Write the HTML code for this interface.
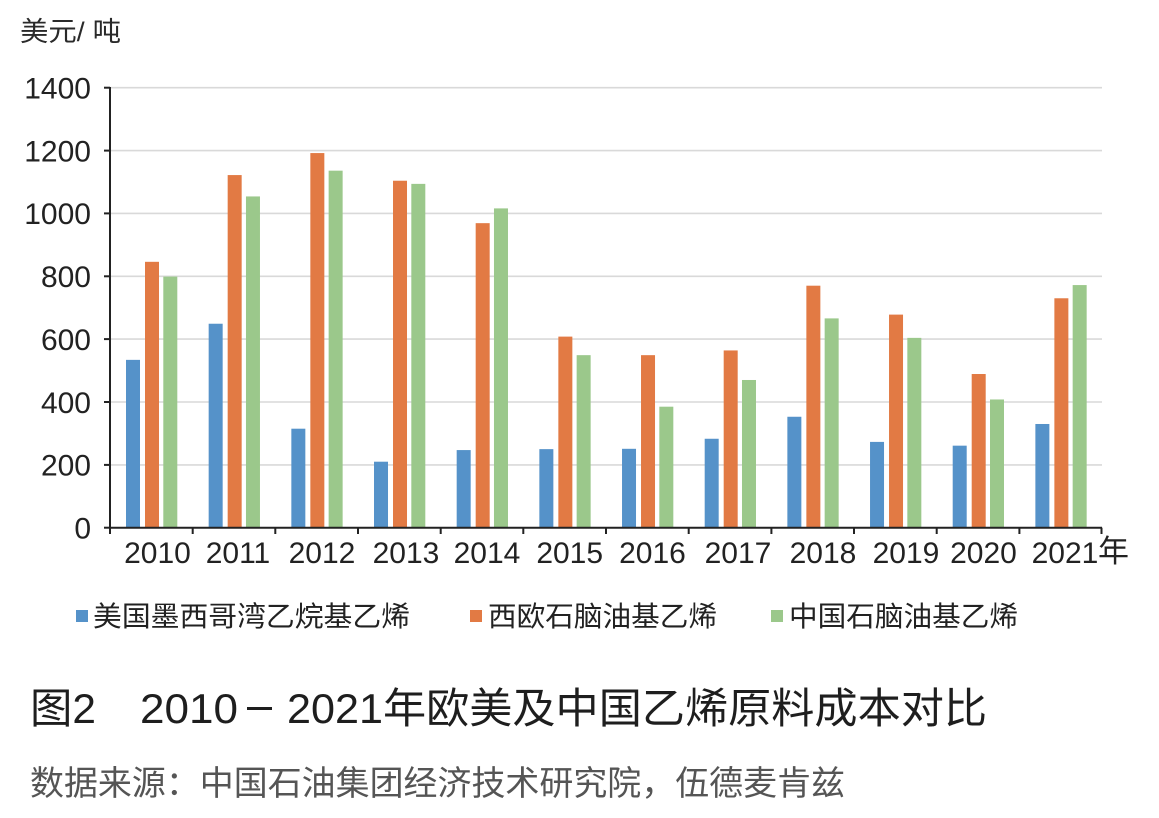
<!DOCTYPE html>
<html>
<head>
<meta charset="utf-8">
<style>
html,body{margin:0;padding:0;background:#fff;}
body{width:1159px;height:818px;overflow:hidden;}
svg{display:block;}
</style>
</head>
<body>
<svg width="1159" height="818" viewBox="0 0 1159 818" xmlns="http://www.w3.org/2000/svg">
<rect width="1159" height="818" fill="#fff"/>
<!-- unit label -->
<text x="20" y="41" font-family="Liberation Sans, Noto Sans CJK SC, sans-serif" font-size="27" fill="#2a2a2a" textLength="101" lengthAdjust="spacingAndGlyphs">美元/ 吨</text>

<!-- gridlines -->
<g stroke="#d9d9d9" stroke-width="1.6">
<line x1="110" y1="87.7" x2="1102" y2="87.7"/>
<line x1="110" y1="150.6" x2="1102" y2="150.6"/>
<line x1="110" y1="213.4" x2="1102" y2="213.4"/>
<line x1="110" y1="276.3" x2="1102" y2="276.3"/>
<line x1="110" y1="339.1" x2="1102" y2="339.1"/>
<line x1="110" y1="402" x2="1102" y2="402"/>
<line x1="110" y1="464.9" x2="1102" y2="464.9"/>
</g>

<!-- bars -->
<g id="bars"></g>
<script>
(function(){
var blue=[534,649,315,210,247,250,251,283,353,273,261,330];
var orange=[846,1122,1192,1104,969,608,549,564,770,678,489,730];
var green=[799,1054,1136,1094,1016,549,385,470,666,604,408,772];
var y0=527.7, k=440/1400, cw=82.67, x0=110;
var g=document.getElementById('bars');
var ns='http://www.w3.org/2000/svg';
function bar(x,v,c){var h=v*k;var r=document.createElementNS(ns,'rect');r.setAttribute('x',x.toFixed(2));r.setAttribute('y',(y0-h).toFixed(2));r.setAttribute('width','14');r.setAttribute('height',h.toFixed(2));r.setAttribute('fill',c);g.appendChild(r);}
for(var i=0;i<12;i++){var s=x0+i*cw;bar(s+16,blue[i],'#5592c9');bar(s+35,orange[i],'#e27a44');bar(s+53.3,green[i],'#9bc88b');}
})();
</script>

<!-- axes -->
<g stroke="#222" stroke-width="2">
<line x1="110" y1="87" x2="110" y2="534"/>
<line x1="109" y1="527.7" x2="1102" y2="527.7"/>
<line x1="104" y1="87.7" x2="110" y2="87.7"/>
<line x1="104" y1="150.6" x2="110" y2="150.6"/>
<line x1="104" y1="213.4" x2="110" y2="213.4"/>
<line x1="104" y1="276.3" x2="110" y2="276.3"/>
<line x1="104" y1="339.1" x2="110" y2="339.1"/>
<line x1="104" y1="402" x2="110" y2="402"/>
<line x1="104" y1="464.9" x2="110" y2="464.9"/>
<line x1="104" y1="527.7" x2="110" y2="527.7"/>
<line x1="192.7" y1="527.7" x2="192.7" y2="534"/>
<line x1="275.3" y1="527.7" x2="275.3" y2="534"/>
<line x1="358" y1="527.7" x2="358" y2="534"/>
<line x1="440.7" y1="527.7" x2="440.7" y2="534"/>
<line x1="523.3" y1="527.7" x2="523.3" y2="534"/>
<line x1="606" y1="527.7" x2="606" y2="534"/>
<line x1="688.7" y1="527.7" x2="688.7" y2="534"/>
<line x1="771.4" y1="527.7" x2="771.4" y2="534"/>
<line x1="854" y1="527.7" x2="854" y2="534"/>
<line x1="936.7" y1="527.7" x2="936.7" y2="534"/>
<line x1="1019.4" y1="527.7" x2="1019.4" y2="534"/>
<line x1="1101.5" y1="527.7" x2="1101.5" y2="534"/>
</g>

<!-- y labels -->
<g font-family="Liberation Sans, sans-serif" font-size="30" fill="#222" text-anchor="end">
<text x="91" y="98.5">1400</text>
<text x="91" y="161.4">1200</text>
<text x="91" y="224.2">1000</text>
<text x="91" y="287.1">800</text>
<text x="91" y="349.9">600</text>
<text x="91" y="412.8">400</text>
<text x="91" y="475.7">200</text>
<text x="91" y="538.5">0</text>
</g>

<!-- x labels -->
<g font-family="Liberation Sans, sans-serif" font-size="30" fill="#222" text-anchor="middle">
<text x="157.5" y="563">2010</text>
<text x="238" y="563">2011</text>
<text x="322" y="563">2012</text>
<text x="406" y="563">2013</text>
<text x="487" y="563">2014</text>
<text x="569.7" y="563">2015</text>
<text x="652.5" y="563">2016</text>
<text x="738" y="563">2017</text>
<text x="823" y="563">2018</text>
<text x="906" y="563">2019</text>
<text x="983.5" y="563">2020</text>
<text x="1065" y="563">2021</text>
</g>
<text x="1098" y="562" font-family="Liberation Sans, Noto Sans CJK SC, sans-serif" font-size="31" fill="#222">年</text>

<!-- legend -->
<rect x="76" y="610" width="12" height="12" fill="#5592c9"/>
<rect x="470" y="610" width="12" height="12" fill="#e27a44"/>
<rect x="771" y="610" width="12" height="12" fill="#9bc88b"/>
<g font-family="Liberation Sans, Noto Sans CJK SC, sans-serif" font-size="28" fill="#222">
<text x="93" y="626" textLength="317" lengthAdjust="spacingAndGlyphs">美国墨西哥湾乙烷基乙烯</text>
<text x="488" y="626" textLength="229" lengthAdjust="spacingAndGlyphs">西欧石脑油基乙烯</text>
<text x="789" y="626" textLength="229" lengthAdjust="spacingAndGlyphs">中国石脑油基乙烯</text>
</g>

<!-- title -->
<g font-family="Liberation Sans, Noto Sans CJK SC, sans-serif" font-size="42" fill="#1e1e1e">
<text x="30" y="723" textLength="66" lengthAdjust="spacingAndGlyphs">图2</text>
<text x="140" y="723" textLength="98" lengthAdjust="spacingAndGlyphs">2010</text>
<rect x="247" y="707" width="25" height="3" fill="#1e1e1e"/>
<text x="287" y="723" textLength="700" lengthAdjust="spacingAndGlyphs">2021年欧美及中国乙烯原料成本对比</text>
</g>

<!-- source -->
<text x="30" y="795" font-family="Liberation Sans, Noto Sans CJK SC, sans-serif" font-size="34" fill="#555" textLength="815" lengthAdjust="spacingAndGlyphs">数据来源：中国石油集团经济技术研究院，伍德麦肯兹</text>
</svg>
</body>
</html>
